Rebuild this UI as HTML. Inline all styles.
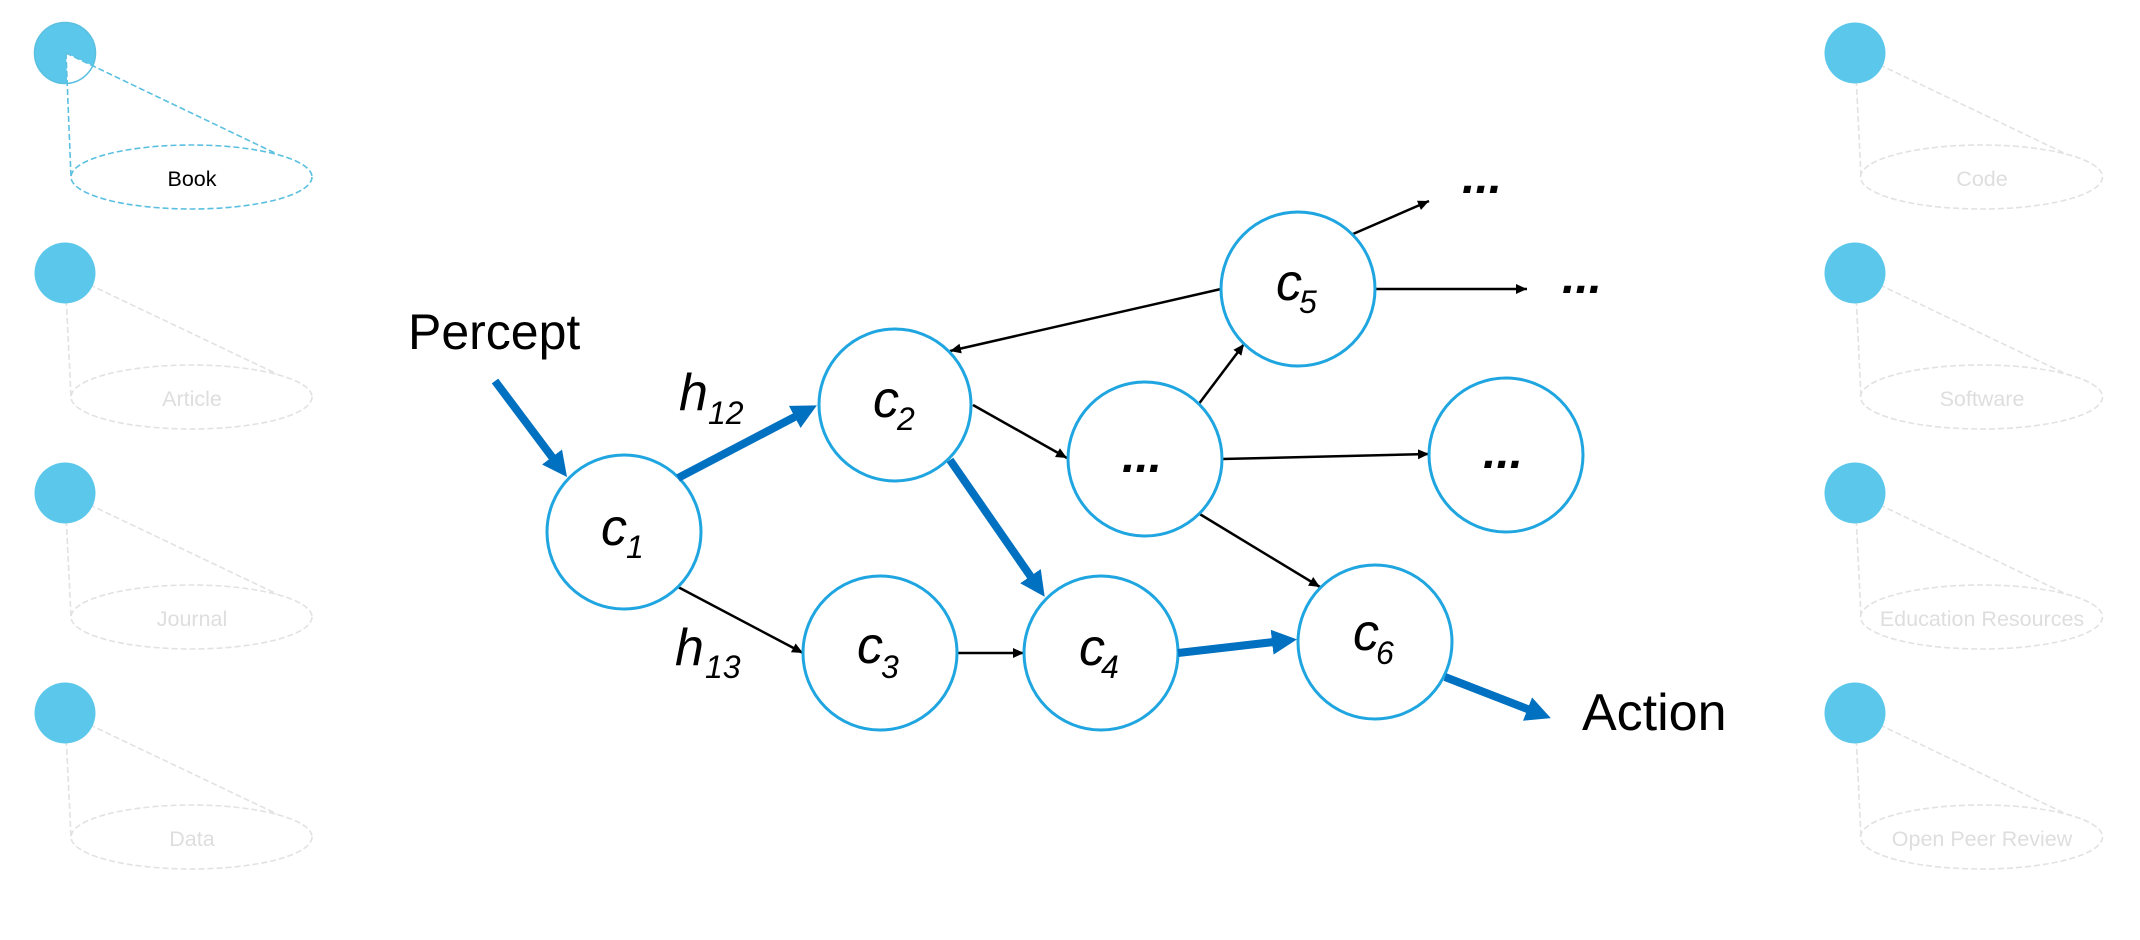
<!DOCTYPE html>
<html>
<head>
<meta charset="utf-8">
<style>
  html, body { margin: 0; padding: 0; background: #ffffff; }
  body { width: 2140px; height: 940px; overflow: hidden; }
  svg { display: block; }
  .lbl { font-family: "Liberation Sans", Arial, sans-serif; font-size: 21.5px; text-anchor: middle; }
  .big { font-family: "Liberation Sans", Arial, sans-serif; font-size: 50px; fill: #000; }
  .it { font-family: "Liberation Sans", Arial, sans-serif; font-style: italic; font-size: 52px; fill: #000; }
  .sub { font-family: "Liberation Sans", Arial, sans-serif; font-style: italic; font-size: 32px; fill: #000; }
  .dots { font-family: "Liberation Sans", Arial, sans-serif; font-style: italic; font-weight: bold; font-size: 48px; fill: #000; text-anchor: middle; }
  .node { fill: #ffffff; stroke: #1fa5e0; stroke-width: 3; }
  .thin { stroke: #000; stroke-width: 2.5; fill: none; marker-end: url(#ah); }
  .thick { stroke: #0070c0; stroke-width: 8; fill: none; marker-end: url(#ahb); }
  .gdash { stroke: #e2e2e2; stroke-width: 1.6; stroke-dasharray: 6 3; fill: none; }
  .bdash { stroke: #5bc0e0; stroke-width: 1.6; stroke-dasharray: 6 3; fill: none; }
</style>
</head>
<body>
<svg width="2140" height="940" viewBox="0 0 2140 940" xmlns="http://www.w3.org/2000/svg">
  <defs>
    <marker id="ah" markerUnits="userSpaceOnUse" markerWidth="12" markerHeight="11" refX="11" refY="5" orient="auto">
      <path d="M0,0 L11,5 L0,10 z" fill="#000"/>
    </marker>
    <marker id="ahb" markerUnits="userSpaceOnUse" markerWidth="26" markerHeight="26" refX="15" refY="12.5" orient="auto">
      <path d="M0,0 L25,12.5 L0,25 z" fill="#0070c0"/>
    </marker>
  </defs>

  <!-- ===== Left column ===== -->
  <!-- Book (highlighted) -->
  <g>
    <circle cx="65" cy="53" r="30.5" fill="#5bc8eb"/>
    <polygon points="66,53 71,177 277,154" fill="#ffffff"/>
    <circle cx="65" cy="53" r="30.5" fill="none" stroke="#5bc0e0" stroke-width="1.5"/>
    <ellipse cx="191.5" cy="177" rx="120.5" ry="32" class="bdash"/>
    <line x1="66" y1="53" x2="71" y2="177" class="bdash"/>
    <line x1="66" y1="53" x2="277" y2="154" class="bdash"/>
    <text x="192" y="186" class="lbl" fill="#000">Book</text>
  </g>
  <!-- Article -->
  <g>
    <line x1="65" y1="273" x2="71" y2="397" class="gdash"/>
    <line x1="65" y1="273" x2="277" y2="374" class="gdash"/>
    <ellipse cx="191.5" cy="397" rx="120.5" ry="32" class="gdash"/>
    <circle cx="65" cy="273" r="30.5" fill="#5bc8eb"/>
    <text x="192" y="406" class="lbl" fill="#dedede">Article</text>
  </g>
  <!-- Journal -->
  <g>
    <line x1="65" y1="493" x2="71" y2="617" class="gdash"/>
    <line x1="65" y1="493" x2="277" y2="594" class="gdash"/>
    <ellipse cx="191.5" cy="617" rx="120.5" ry="32" class="gdash"/>
    <circle cx="65" cy="493" r="30.5" fill="#5bc8eb"/>
    <text x="192" y="626" class="lbl" fill="#dedede">Journal</text>
  </g>
  <!-- Data -->
  <g>
    <line x1="65" y1="713" x2="71" y2="837" class="gdash"/>
    <line x1="65" y1="713" x2="277" y2="814" class="gdash"/>
    <ellipse cx="191.5" cy="837" rx="120.5" ry="32" class="gdash"/>
    <circle cx="65" cy="713" r="30.5" fill="#5bc8eb"/>
    <text x="192" y="846" class="lbl" fill="#dedede">Data</text>
  </g>

  <!-- ===== Right column ===== -->
  <g>
    <line x1="1855" y1="53" x2="1861" y2="177" class="gdash"/>
    <line x1="1855" y1="53" x2="2064" y2="153" class="gdash"/>
    <ellipse cx="1981.5" cy="177" rx="121" ry="32" class="gdash"/>
    <circle cx="1855" cy="53" r="30.5" fill="#5bc8eb"/>
    <text x="1982" y="186" class="lbl" fill="#dedede">Code</text>
  </g>
  <g>
    <line x1="1855" y1="273" x2="1861" y2="397" class="gdash"/>
    <line x1="1855" y1="273" x2="2064" y2="373" class="gdash"/>
    <ellipse cx="1981.5" cy="397" rx="121" ry="32" class="gdash"/>
    <circle cx="1855" cy="273" r="30.5" fill="#5bc8eb"/>
    <text x="1982" y="406" class="lbl" fill="#dedede">Software</text>
  </g>
  <g>
    <line x1="1855" y1="493" x2="1861" y2="617" class="gdash"/>
    <line x1="1855" y1="493" x2="2064" y2="593" class="gdash"/>
    <ellipse cx="1981.5" cy="617" rx="121" ry="32" class="gdash"/>
    <circle cx="1855" cy="493" r="30.5" fill="#5bc8eb"/>
    <text x="1982" y="626" class="lbl" fill="#dedede">Education Resources</text>
  </g>
  <g>
    <line x1="1855" y1="713" x2="1861" y2="837" class="gdash"/>
    <line x1="1855" y1="713" x2="2064" y2="813" class="gdash"/>
    <ellipse cx="1981.5" cy="837" rx="121" ry="32" class="gdash"/>
    <circle cx="1855" cy="713" r="30.5" fill="#5bc8eb"/>
    <text x="1982" y="846" class="lbl" fill="#dedede">Open Peer Review</text>
  </g>

  <!-- ===== Central diagram ===== -->
  <!-- thin connectors -->
  <line x1="678" y1="587" x2="803" y2="653" class="thin"/>
  <line x1="957" y1="653" x2="1024" y2="653" class="thin"/>
  <line x1="1221" y1="289" x2="950" y2="351" class="thin"/>
  <line x1="973" y1="405" x2="1067" y2="458" class="thin"/>
  <line x1="1198" y1="405" x2="1244" y2="344" class="thin"/>
  <line x1="1222" y1="459" x2="1429" y2="454" class="thin"/>
  <line x1="1198" y1="513" x2="1320" y2="587" class="thin"/>
  <line x1="1353" y1="234" x2="1429" y2="201" class="thin"/>
  <line x1="1375" y1="289" x2="1527" y2="289" class="thin"/>

  <!-- nodes -->
  <circle cx="624" cy="532" r="77" class="node"/>
  <circle cx="895" cy="405" r="76" class="node"/>
  <circle cx="880" cy="653" r="77" class="node"/>
  <circle cx="1101" cy="653" r="77" class="node"/>
  <circle cx="1298" cy="289" r="77" class="node"/>
  <circle cx="1145" cy="459" r="77" class="node"/>
  <circle cx="1506" cy="455" r="77" class="node"/>
  <circle cx="1375" cy="642" r="77" class="node"/>

  <!-- thick connectors (line ends 10px before tip; marker extends to tip) -->
  <line x1="495" y1="381" x2="561" y2="469" class="thick"/>
  <line x1="678" y1="478" x2="808" y2="410" class="thick"/>
  <line x1="950" y1="460" x2="1039" y2="588.5" class="thick"/>
  <line x1="1178" y1="653" x2="1287" y2="640.5" class="thick"/>
  <line x1="1445" y1="677" x2="1541.5" y2="714.5" class="thick"/>

  <!-- node labels -->
  <text x="601" y="545" class="it">c</text><text x="626" y="558" class="sub">1</text>
  <text x="873" y="417" class="it">c</text><text x="897" y="430" class="sub">2</text>
  <text x="857" y="663" class="it">c</text><text x="881" y="678" class="sub">3</text>
  <text x="1079" y="665" class="it">c</text><text x="1101" y="678" class="sub">4</text>
  <text x="1276" y="300" class="it">c</text><text x="1299" y="313" class="sub">5</text>
  <text x="1353" y="650" class="it">c</text><text x="1376" y="664" class="sub">6</text>

  <text x="1142" y="472" class="dots">...</text>
  <text x="1503" y="468" class="dots">...</text>
  <text x="1482" y="193" class="dots">...</text>
  <text x="1582" y="293" class="dots">...</text>

  <!-- edge labels -->
  <text x="679" y="410" class="it">h</text><text x="708" y="424" class="sub">12</text>
  <text x="675" y="665" class="it">h</text><text x="705" y="678" class="sub">13</text>

  <!-- Percept / Action -->
  <text x="408" y="349" class="big">Percept</text>
  <text x="1582" y="730" class="big" style="font-size:52px">Action</text>
</svg>
</body>
</html>
